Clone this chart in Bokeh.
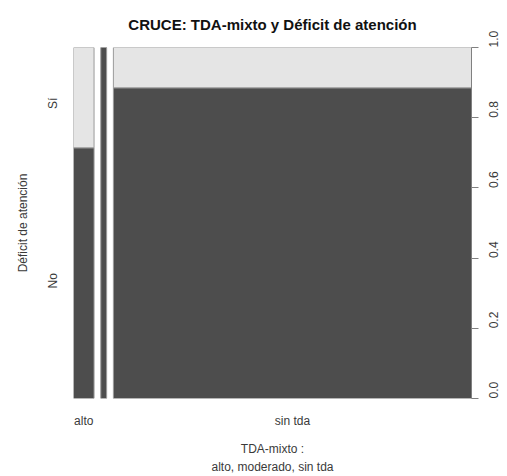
from bokeh.plotting import figure
from bokeh.models import Range1d, LinearAxis, FixedTicker, ColumnDataSource
from bokeh.embed import file_html
from bokeh.resources import INLINE
import math

# Data (spineplot of TDA-mixto vs Déficit de atención)
title_text = "CRUCE: TDA-mixto y Déficit de atención"
categories = ["alto", "moderado", "sin tda"]
no_counts = [5, 2, 108]
si_counts = [2, 0, 14]
shown_x_labels = ["alto", "", "sin tda"]
y_levels = ["No", "Sí"]
y_ticks = [0.0, 0.2, 0.4, 0.6, 0.8, 1.0]

GAP = 0.0175  # spacing between spines (relative units)

totals = [n + s for n, s in zip(no_counts, si_counts)]
grand = sum(totals)
widths = [t / grand for t in totals]
lefts, rights = [], []
pos = 0.0
for w in widths:
    lefts.append(pos)
    rights.append(pos + w)
    pos += w + GAP
xmax = rights[-1]
no_frac = [n / t for n, t in zip(no_counts, totals)]

dark = "#4d4d4d"
light = "#e5e5e5"
border = "#9a9a9a"
txt = "#3a3a3a"
FONT = "Liberation Sans"

p = figure(frame_width=398, frame_height=351, output_backend="svg", toolbar_location=None,
           x_range=Range1d(0, xmax), y_range=Range1d(0, 1),
           x_axis_location=None, y_axis_location=None,
           min_border_left=73, min_border_right=30, min_border_top=47, min_border_bottom=60,
           title=title_text)
p.grid.visible = False
p.outline_line_color = None
p.title.align = "center"
p.title.vertical_align = "top"
p.title.text_font = FONT
p.title.text_font_size = "15px"
p.title.text_font_style = "bold"
p.title.text_color = "#111111"
p.title.text_line_height = 0.7
p.title.standoff = 25

src_no = ColumnDataSource(dict(left=lefts, right=rights, bottom=[0] * 3, top=no_frac))
src_si = ColumnDataSource(dict(left=lefts, right=rights, bottom=no_frac, top=[1] * 3))
p.quad(left="left", right="right", bottom="bottom", top="top", source=src_no,
       fill_color=dark, line_color=border, line_width=1)
p.quad(left="left", right="right", bottom="bottom", top="top", source=src_si,
       fill_color=light, line_color=border, line_width=1)

# Right axis: proportions
ra = LinearAxis(ticker=FixedTicker(ticks=y_ticks),
                major_label_overrides={t: f"{t:.1f}" for t in y_ticks})
ra.major_label_orientation = math.pi / 2
ra.major_tick_in = 0
ra.major_tick_out = 7
ra.minor_tick_line_color = None
ra.axis_line_color = "#808080"
ra.major_tick_line_color = "#808080"
ra.major_label_text_font = FONT
ra.major_label_text_font_size = "12px"
ra.major_label_text_color = txt
ra.major_label_standoff = 15
p.add_layout(ra, "right")

# Left axis: category labels at middle of first spine's segments
f0 = no_frac[0]
left_pos = [f0 / 2, (f0 + 1) / 2]
la = LinearAxis(ticker=FixedTicker(ticks=left_pos),
                major_label_overrides={left_pos[i]: y_levels[i] for i in range(2)},
                axis_label="Déficit de atención")
la.major_label_orientation = math.pi / 2
la.axis_line_color = None
la.major_tick_line_color = None
la.minor_tick_line_color = None
la.major_label_text_font = FONT
la.major_label_text_font_size = "12px"
la.major_label_text_color = txt
la.major_label_standoff = 14
la.axis_label_text_font = FONT
la.axis_label_text_font_size = "12px"
la.axis_label_text_font_style = "normal"
la.axis_label_text_color = txt
la.axis_label_standoff = 7
p.add_layout(la, "left")

# Bottom axis: category labels at spine centres
centers = [(l + r) / 2 for l, r in zip(lefts, rights)]
bt = [c for c, s in zip(centers, shown_x_labels) if s]
ba = LinearAxis(ticker=FixedTicker(ticks=bt),
                major_label_overrides={c: s for c, s in zip(centers, shown_x_labels) if s},
                axis_label="TDA-mixto :\nalto, moderado, sin tda")
ba.axis_line_color = None
ba.major_tick_line_color = None
ba.minor_tick_line_color = None
ba.major_label_text_font = FONT
ba.major_label_text_font_size = "12px"
ba.major_label_text_color = txt
ba.major_label_standoff = 9
ba.axis_label_text_font = FONT
ba.axis_label_text_font_size = "12px"
ba.axis_label_text_font_style = "normal"
ba.axis_label_text_color = txt
ba.axis_label_text_line_height = 1.3
ba.axis_label_standoff = 11
p.add_layout(ba, "below")

open("out.html", "w").write(file_html(p, INLINE))
